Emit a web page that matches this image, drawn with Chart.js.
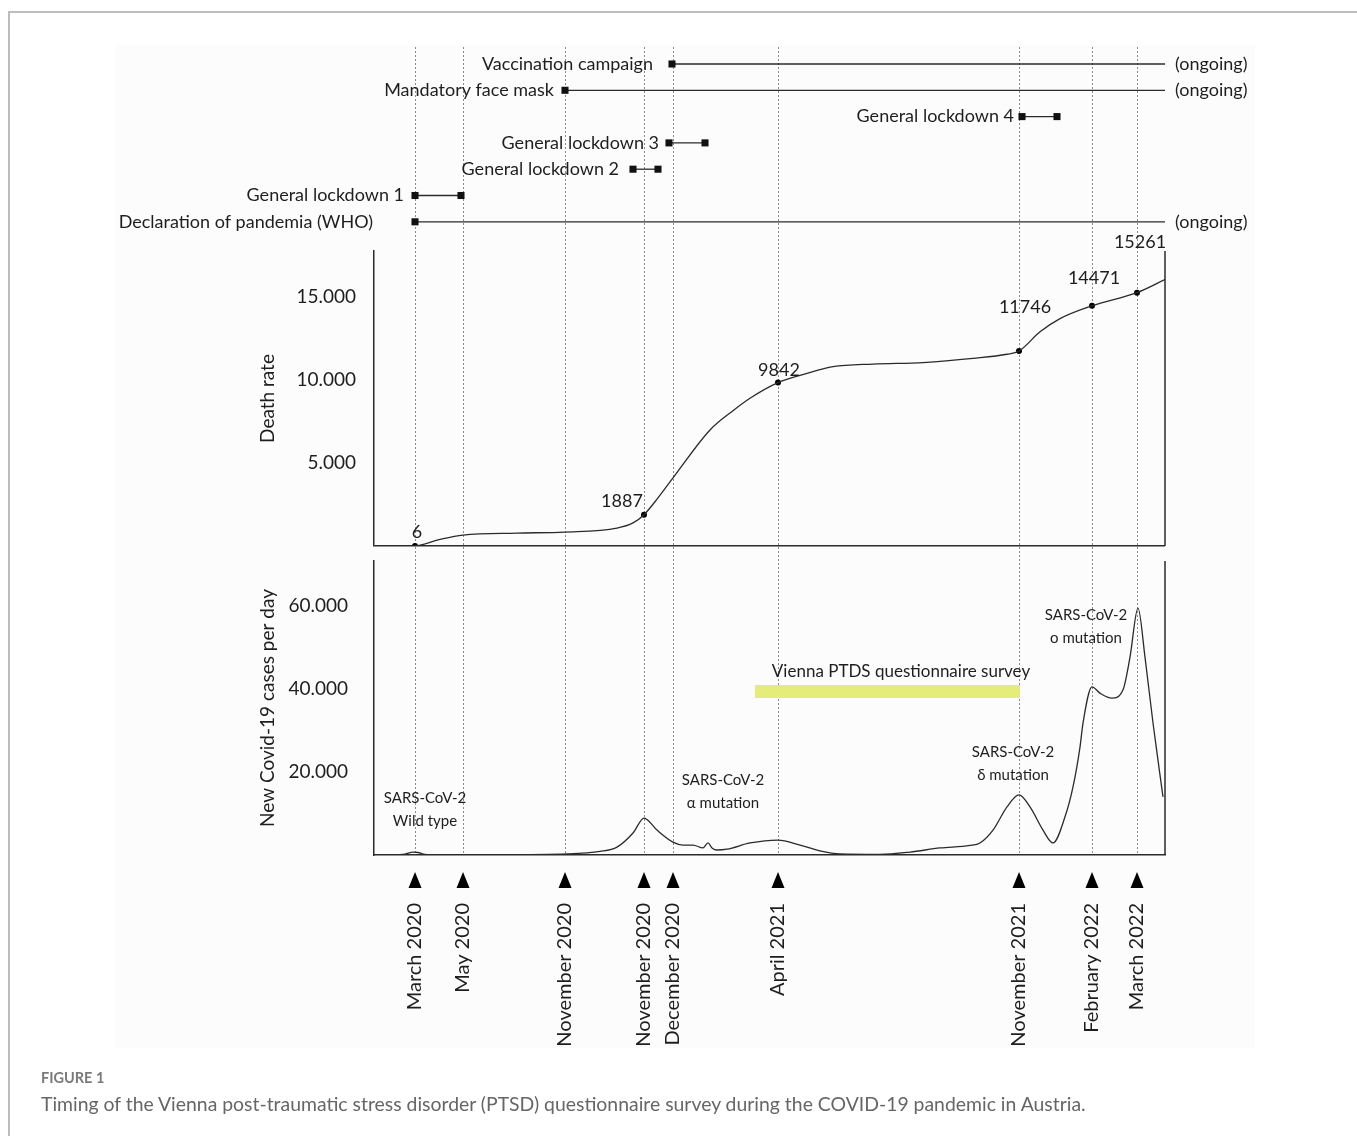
<!DOCTYPE html>
<html><head><meta charset="utf-8">
<script src="https://cdn.jsdelivr.net/npm/chart.js@4/dist/chart.umd.min.js"></script>
<style>
html,body{margin:0;padding:0;background:#fff;overflow:hidden;width:1357px;height:1136px}
#frame{position:absolute;left:8px;top:11px;width:1400px;height:1200px;border-top:2px solid #bdbdbd;border-left:2px solid #bdbdbd}
#panel{position:absolute;left:115px;top:45px;width:1140px;height:1003px;background:#fcfcfc}
#c{position:absolute;left:0;top:0}
#fig{position:absolute;left:41px;top:1069px;font:bold 14.5px Lato, sans-serif;color:#7a7a7a}
#cap{position:absolute;left:41px;top:1092px;font:19.4px Lato, sans-serif;color:#666;white-space:nowrap}
</style></head>
<body>
<div id="frame"></div><div id="panel"></div>
<canvas id="c" width="1357" height="1136"></canvas>
<div id="fig">FIGURE 1</div>
<div id="cap">Timing of the Vienna post-traumatic stress disorder (PTSD) questionnaire survey during the COVID-19 pandemic in Austria.</div>
<script>
// ---- data (x in days since 1 March 2020, estimated from the figure) ----
const markerLabels = ['March 2020','May 2020','November 2020','November 2020','December 2020','April 2021','November 2021','February 2022','March 2022'];
const markerDays = [11, 59, 161, 240, 269, 374, 615, 688, 733];

const eventNames = ['Vaccination campaign','Mandatory face mask','General lockdown 4','General lockdown 3','General lockdown 2','General lockdown 1','Declaration of pandemia (WHO)'];
const eventRows  = [1, 2, 3, 4, 5, 6, 7];
const eventStart = [268, 161, 618, 265, 229, 11, 11];
const eventEnd   = [null, null, 653, 301, 254, 57, null]; // null = ongoing

const deathTicks = [0, 5000, 10000, 15000];
const deathDays   = [-30, 0, 11, 35, 59, 113, 161, 213, 229, 240, 254, 269, 306, 329, 346, 374, 403, 429, 469, 519, 569, 603, 615, 636, 656, 688, 733, 761];
const deathValues = [0, 0, 6, 380, 660, 780, 840, 1080, 1390, 1887, 2900, 4100, 6990, 8150, 8900, 9842, 10400, 10800, 10960, 11050, 11300, 11550, 11746, 12900, 13700, 14471, 15261, 16050];
const deathMarkDays   = [11, 240, 374, 615, 688, 733];
const deathMarkValues = [6, 1887, 9842, 11746, 14471, 15261];

const casesTicks = [0, 20000, 40000, 60000];
const casesDays   = [-30, -9, 1, 9, 14, 21, 36, 96, 163, 196, 213, 229, 240, 253, 269, 279, 289, 299, 304, 308, 313, 323, 346, 374, 396, 416, 436, 476, 506, 536, 566, 576, 589, 603, 615, 626, 639, 649, 661, 669, 676, 679, 688, 696, 708, 719, 726, 734, 741, 749, 759];
const casesValues = [0, 0, 200, 700, 600, 150, 50, 50, 240, 850, 1900, 5300, 8900, 6000, 3100, 2400, 2400, 1700, 2900, 1700, 1200, 1400, 2900, 3600, 2400, 1000, 250, 150, 700, 1700, 2300, 2900, 6000, 11600, 14500, 11600, 6000, 2900, 9200, 16400, 26000, 31800, 40500, 39000, 37800, 39800, 47700, 59500, 47700, 31800, 14000];

const surveyDays = [351, 616];
const surveyValue = 39400;
const surveyLabel = 'Vienna PTDS questionnaire survey';
const surveyLabelPoint = [497, 44100];

const annoLines  = [['SARS-CoV-2','Wild type'], ['SARS-CoV-2','\u03b1 mutation'], ['SARS-CoV-2','\u03b4 mutation'], ['SARS-CoV-2','\u03bf mutation']];
const annoDays   = [21, 319, 609, 682];
const annoValues = [13700, 18100, 24800, 57800];

// ---- styles ----
const TEXT = '#1e1e1e', LINE = '#2b2b2b';
const X_MIN = -30, X_MAX = 761, D_MAX = 17770, C_MAX = 70850;
const labelGap = [19, 11, 8, 10, 14, 11, 42];
const deathLabelOffsets = [[2,-14],[-22,-13],[1,-12],[6,-44],[2,-28],[3,-50]];

Chart.defaults.font.family = 'Lato, "Open Sans", sans-serif';
Chart.defaults.color = TEXT;

const fmt = v => String(v).replace(/\B(?=(\d{3})+(?!\d))/g, '.');
const pts = (xs, ys) => xs.map((x, i) => ({x, y: ys[i]}));

const datasets = [];
eventNames.forEach((n, i) => {
  const ongoing = eventEnd[i] === null;
  datasets.push({
    label: n, yAxisID: 'yT',
    data: [{x: eventStart[i], y: eventRows[i]}, {x: ongoing ? X_MAX : eventEnd[i], y: eventRows[i]}],
    borderColor: LINE, borderWidth: 1.3,
    pointStyle: 'rect', pointRadius: ongoing ? [5, 0] : 5,
    pointBackgroundColor: '#111', pointBorderWidth: 0
  });
});
datasets.push({label:'survey', yAxisID:'yC', data: surveyDays.map(d => ({x: d, y: surveyValue})),
  borderColor: 'rgb(228,236,122)', borderWidth: 13, borderCapStyle: 'butt', pointRadius: 0});
datasets.push({label:'Death rate', yAxisID:'yD', data: pts(deathDays, deathValues),
  borderColor: LINE, borderWidth: 1.3, pointRadius: 0, cubicInterpolationMode: 'monotone'});
datasets.push({label:'Death marks', yAxisID:'yD', data: pts(deathMarkDays, deathMarkValues),
  showLine: false, pointRadius: 3, pointBackgroundColor: '#000', pointBorderWidth: 0});
datasets.push({label:'New cases', yAxisID:'yC', data: pts(casesDays, casesValues),
  borderColor: LINE, borderWidth: 1.3, pointRadius: 0, cubicInterpolationMode: 'monotone'});

const hiddenAxis = (w, sw) => ({type:'linear', position:'left', stack:'L', stackWeight: sw, weight: w,
  min: 0, max: 1, ticks:{display:false}, grid:{display:false}, border:{display:false},
  afterFit: s => { s.width = 124; }});

const overlay = {
  id: 'overlay',
  afterDraw(chart) {
    const {ctx, chartArea, scales} = chart;
    const x = scales.x, yT = scales.yT, yD = scales.yD, yC = scales.yC;
    ctx.save();
    // right frame lines of the two panels
    ctx.strokeStyle = LINE; ctx.lineWidth = 1.5;
    [yD, yC].forEach(s => {
      ctx.beginPath(); ctx.moveTo(chartArea.right, s.top); ctx.lineTo(chartArea.right, s.bottom); ctx.stroke();
    });
    ctx.fillStyle = TEXT; ctx.textBaseline = 'middle';
    // timeline labels
    ctx.font = '18px Lato, sans-serif';
    eventNames.forEach((n, i) => {
      const py = yT.getPixelForValue(eventRows[i]);
      ctx.textAlign = 'right';
      ctx.fillText(n, x.getPixelForValue(eventStart[i]) - labelGap[i], py);
      if (eventEnd[i] === null) {
        ctx.textAlign = 'left';
        ctx.fillText('(ongoing)', chartArea.right + 10, py);
      }
    });
    // death value labels
    ctx.font = '18px Lato, sans-serif'; ctx.textAlign = 'center';
    deathMarkDays.forEach((d, i) => {
      const o = deathLabelOffsets[i];
      ctx.fillText(String(deathMarkValues[i]), x.getPixelForValue(d) + o[0], yD.getPixelForValue(deathMarkValues[i]) + o[1]);
    });
    // variant annotations
    ctx.font = '15px Lato, sans-serif';
    annoLines.forEach((lines, i) => {
      const px = x.getPixelForValue(annoDays[i]), py = yC.getPixelForValue(annoValues[i]);
      lines.forEach((t, k) => ctx.fillText(t, px, py + k * 23));
    });
    ctx.font = '17px Lato, sans-serif';
    ctx.fillText(surveyLabel, x.getPixelForValue(surveyLabelPoint[0]), yC.getPixelForValue(surveyLabelPoint[1]));
    // arrows above the date labels
    ctx.fillStyle = '#000';
    markerDays.forEach(d => {
      const px = x.getPixelForValue(d);
      ctx.beginPath();
      ctx.moveTo(px, x.top + 17); ctx.lineTo(px + 6.5, x.top + 33); ctx.lineTo(px - 6.5, x.top + 33);
      ctx.closePath(); ctx.fill();
    });
    ctx.restore();
  }
};

new Chart(document.getElementById('c'), {
  type: 'line',
  data: {datasets},
  plugins: [overlay],
  options: {
    responsive: false, animation: false, events: [],
    layout: {padding: {left: 250, right: 192, top: 47, bottom: 81}},
    plugins: {legend: {display: false}, tooltip: {enabled: false}},
    scales: {
      x: {type: 'linear', position: 'bottom', min: X_MIN, max: X_MAX,
        afterBuildTicks: s => { s.ticks = markerDays.map(v => ({value: v})); },
        afterFit: s => { s.height = 200; },
        ticks: {autoSkip: false, minRotation: 90, maxRotation: 90, padding: 48, color: TEXT,
          font: {size: 20}, callback: (v, i) => markerLabels[i]},
        grid: {color: '#8a8a8a', lineWidth: 1, drawTicks: false},
        border: {display: true, color: LINE, width: 1.5, dash: [2, 2]}
      },
      yT: Object.assign(hiddenAxis(4, 204), {reverse: true, min: 0.354, max: 8.11}),
      yD: {type: 'linear', position: 'left', stack: 'L', stackWeight: 295, weight: 3,
        min: 0, max: D_MAX,
        afterBuildTicks: s => { s.ticks = deathTicks.map(v => ({value: v})); },
        afterFit: s => { s.width = 124; },
        ticks: {padding: 18, color: TEXT, font: {size: 19},
          callback: v => v === 0 ? '' : fmt(v)},
        grid: {drawTicks: false, lineWidth: 1.5, color: c => (c.tick && c.tick.value === 0) ? LINE : 'rgba(0,0,0,0)'},
        border: {display: true, color: LINE, width: 1.5},
        title: {display: true, text: 'Death rate', color: TEXT, font: {size: 19}, padding: {top: 6, bottom: 0}}
      },
      yG: hiddenAxis(2, 15),
      yC: {type: 'linear', position: 'left', stack: 'L', stackWeight: 294, weight: 1,
        min: 0, max: C_MAX,
        afterBuildTicks: s => { s.ticks = casesTicks.map(v => ({value: v})); },
        afterFit: s => { s.width = 124; },
        ticks: {padding: 18, color: TEXT, font: {size: 19},
          callback: v => v === 0 ? '' : fmt(v)},
        grid: {display: false},
        border: {display: true, color: LINE, width: 1.5},
        title: {display: true, text: 'New Covid-19 cases per day', color: TEXT, font: {size: 19}, padding: {top: 6, bottom: 0}}
      }
    }
  }
});
</script>
</body></html>
